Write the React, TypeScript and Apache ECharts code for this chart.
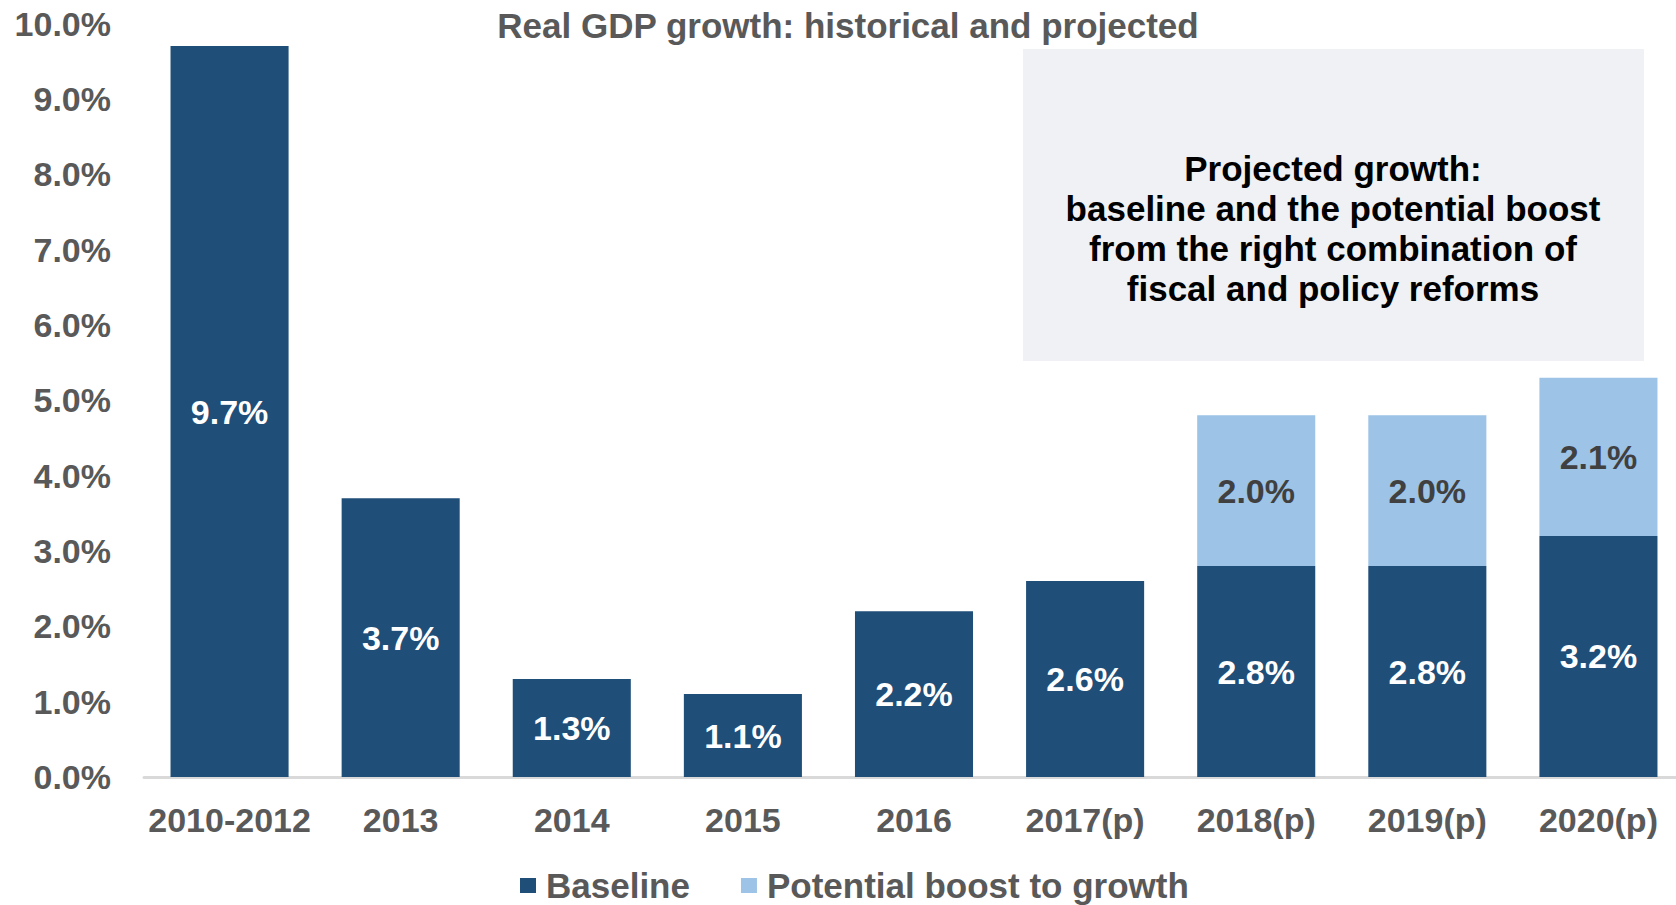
import React, { useEffect, useRef } from "react";
import * as echarts from "echarts";

const categories = ["2010-2012", "2013", "2014", "2015", "2016", "2017(p)", "2018(p)", "2019(p)", "2020(p)"];
const baseline = [9.7, 3.7, 1.3, 1.1, 2.2, 2.6, 2.8, 2.8, 3.2];
const boost: (number | string)[] = ["-", "-", "-", "-", "-", "-", 2.0, 2.0, 2.1];
const seriesNames = ["Baseline", "Potential boost to growth"];
const titleText = "Real GDP growth: historical and projected";
const noteLines = [
  "Projected growth:",
  "baseline and the potential boost",
  "from the right combination of",
  "fiscal and policy reforms",
];

const FONT = "'Liberation Sans', Arial, sans-serif";
const GRAY = "#595959";

export default function App() {
  const ref = useRef<HTMLDivElement>(null);
  useEffect(() => {
    if (!ref.current) return;
    const chart = echarts.init(ref.current, null, { renderer: "svg" });
    const fmt = (p: any) => Number(p.value).toFixed(1) + "%";
    chart.setOption({
      animation: false,
      backgroundColor: "#ffffff",
      textStyle: { fontFamily: FONT },
      title: {
        text: titleText,
        left: 848,
        top: 8,
        textAlign: "center",
        padding: 0,
        textStyle: { fontFamily: FONT, fontSize: 35, fontWeight: "bold", color: GRAY },
      },
      legend: {
        data: seriesNames,
        left: 520,
        top: 868,
        icon: "rect",
        itemWidth: 16,
        itemHeight: 15,
        itemGap: 51,
        padding: 0,
        textStyle: { fontFamily: FONT, fontSize: 35, fontWeight: "bold", color: GRAY, padding: [0, 0, 0, 5] },
      },
      grid: {
        left: 144,
        top: 23.5,
        width: 1540,
        bottom: 128,
        containLabel: false,
        outerBoundsMode: "none",
      },
      xAxis: {
        type: "category",
        data: categories,
        axisTick: { show: false },
        axisLine: { show: true, lineStyle: { color: "#D9D9D9", width: 3 } },
        axisLabel: {
          interval: 0,
          margin: 26,
          fontFamily: FONT,
          fontSize: 34,
          fontWeight: "bold",
          color: GRAY,
        },
      },
      yAxis: {
        type: "value",
        min: 0,
        max: 10,
        interval: 1,
        splitLine: { show: false },
        axisLine: { show: false },
        axisTick: { show: false },
        axisLabel: {
          margin: 33,
          fontFamily: FONT,
          fontSize: 34,
          fontWeight: "bold",
          color: GRAY,
          formatter: (v: number) => v.toFixed(1) + "%",
        },
      },
      series: [
        {
          name: seriesNames[0],
          type: "bar",
          stack: "total",
          data: baseline,
          barCategoryGap: "31%",
          itemStyle: { color: "#1F4E79" },
          label: {
            show: true,
            position: "inside",
            formatter: fmt,
            fontFamily: FONT,
            fontSize: 34,
            fontWeight: "bold",
            color: "#ffffff",
          },
        },
        {
          name: seriesNames[1],
          type: "bar",
          stack: "total",
          data: boost,
          barCategoryGap: "31%",
          itemStyle: { color: "#9DC3E6" },
          label: {
            show: true,
            position: "inside",
            formatter: fmt,
            fontFamily: FONT,
            fontSize: 34,
            fontWeight: "bold",
            color: "#404040",
          },
        },
      ],
      graphic: [
        {
          type: "rect",
          left: 1023,
          top: 49,
          shape: { width: 621, height: 312 },
          style: { fill: "#F0F1F5" },
          z: 0,
        },
        {
          type: "text",
          x: 1333,
          y: 148,
          style: {
            text: noteLines.join("\n"),
            align: "center",
            verticalAlign: "top",
            fontFamily: FONT,
            fontSize: 35,
            fontWeight: "bold",
            lineHeight: 40,
            fill: "#000000",
          },
          z: 1,
        },
      ],
    });
    return () => chart.dispose();
  }, []);
  return (
    <div
      ref={ref}
      style={{ position: "fixed", left: 0, top: 0, width: 1676, height: 905, background: "#fff" }}
    />
  );
}
